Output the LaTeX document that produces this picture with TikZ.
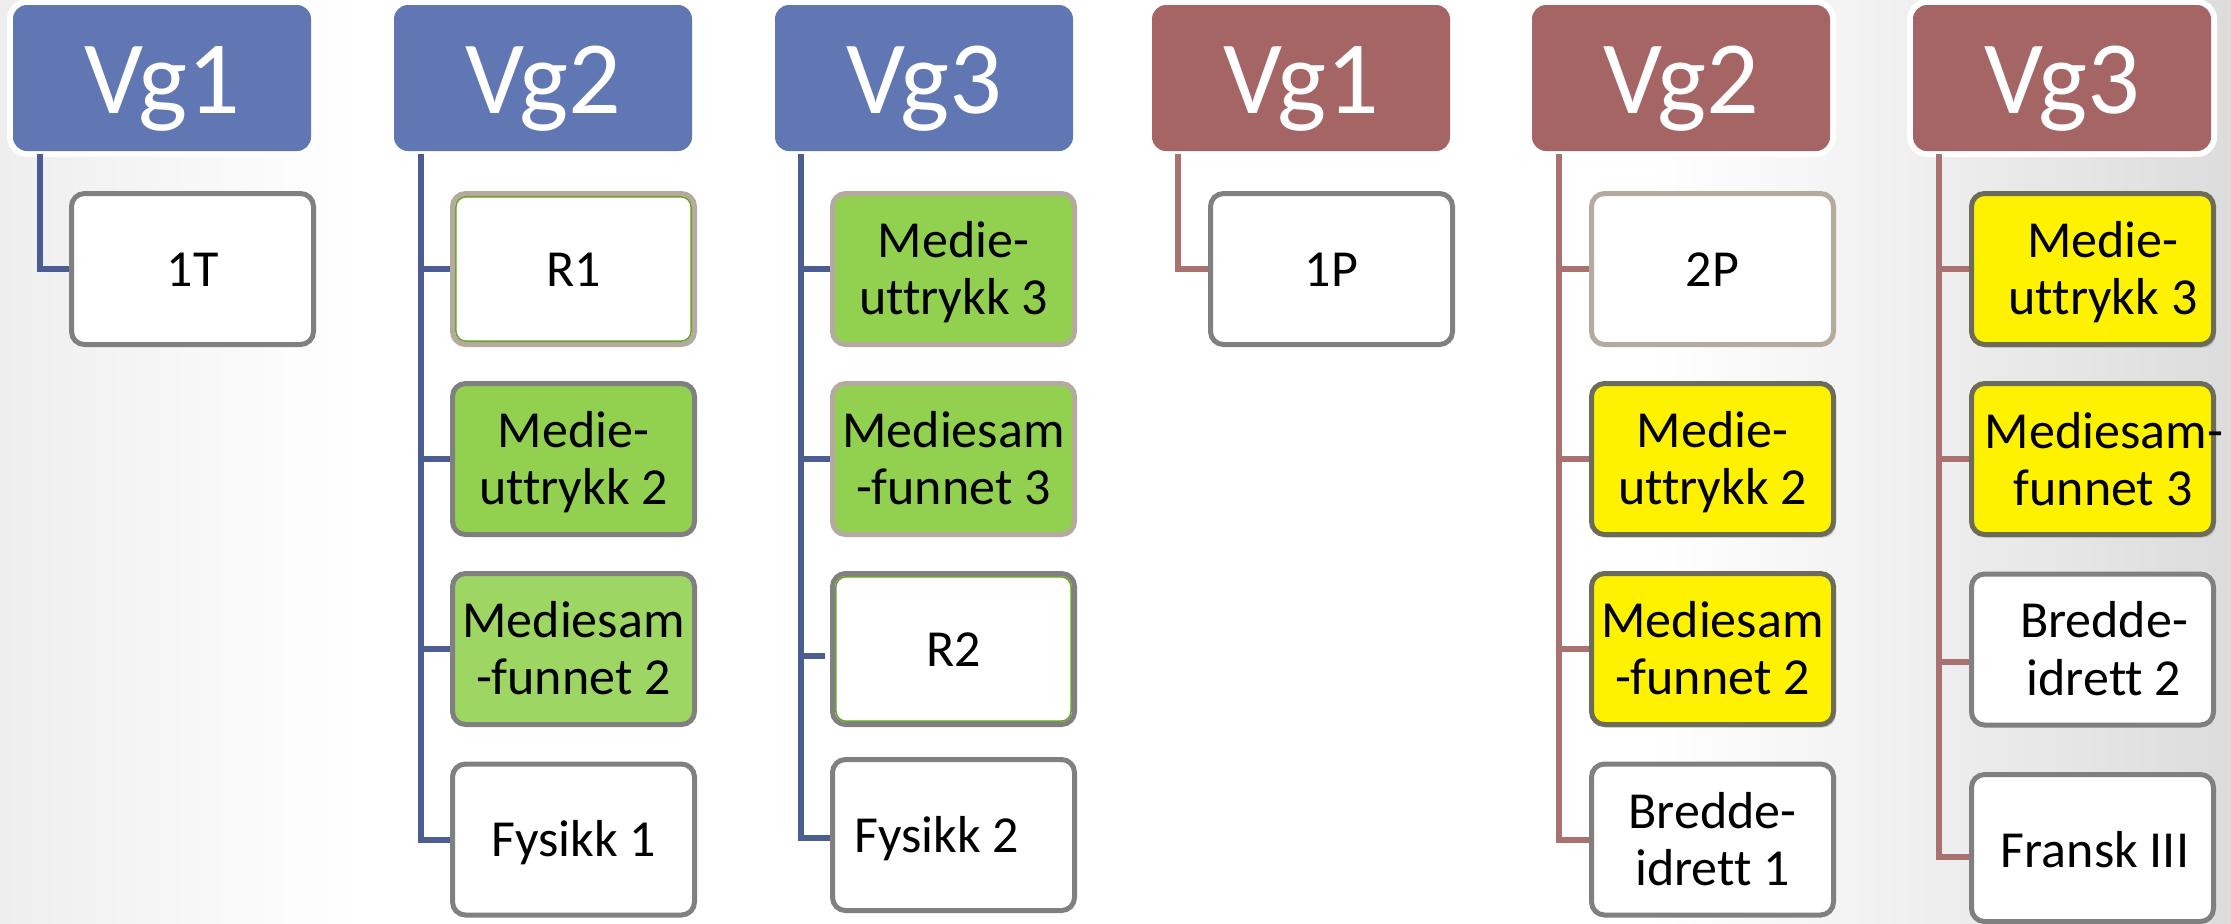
\documentclass[tikz,border=0pt]{standalone}
\usepackage{fontspec}
\setmainfont{Carlito}[Ligatures=NoCommon]
\usetikzlibrary{shadows}
\definecolor{hblue}{RGB}{97,119,180}
\definecolor{lblue}{RGB}{76,93,146}
\definecolor{hred}{RGB}{166,101,101}
\definecolor{lred}{RGB}{170,113,113}
\definecolor{bgray}{RGB}{128,128,128}
\definecolor{btan}{RGB}{181,170,158}
\definecolor{gfill}{RGB}{146,208,80}
\definecolor{gfillb}{RGB}{158,214,100}
\definecolor{gline}{RGB}{110,160,50}
\definecolor{ydark}{RGB}{108,108,88}
\definecolor{bgl}{RGB}{238,238,238}
\definecolor{bgr}{RGB}{220,220,220}
\pgfdeclarehorizontalshading{bgshade}{100bp}{color(0bp)=(bgl); color(25bp)=(bgl); color(33bp)=(white); color(62bp)=(white); color(75bp)=(bgr); color(100bp)=(bgr)}
\begin{document}
\begin{tikzpicture}[x=0.5pt,y=-0.5pt,
  head/.style={rectangle, rounded corners=7pt, minimum width=149pt, minimum height=73pt, inner sep=0pt, preaction={draw=white, line width=6pt}},
  htxt/.style={anchor=base, inner sep=0pt, text=white, font=\fontsize{52}{56}\selectfont},
  box/.style={rectangle, rounded corners=6.5pt, minimum width=121pt, minimum height=75.5pt, line width=2.5pt, inner sep=0pt},
  plain/.style={box, draw=bgray, fill=white},
  tanbox/.style={box, draw=btan},
  ybox/.style={box, draw=ydark, fill=yellow, drop shadow={opacity=0.35, shadow xshift=1.2pt, shadow yshift=-1.6pt}},
  inline/.style={rectangle, rounded corners=5pt, minimum width=117.6pt, minimum height=72.2pt, inner sep=0pt, draw=gline, line width=0.8pt},
  txt/.style={anchor=base, inner sep=0pt, font=\fontsize{26}{28.5}\selectfont},
  conn/.style={line width=3pt}]
\useasboundingbox (0,0) rectangle (2231,923);
\shade[shading=bgshade] (0,0) rectangle (2231,923);

% ---------- headers ----------
\node[head, fill=hblue] (hA) at (162,78) {};
\node[head, fill=hblue] (hB) at (543,78) {};
\node[head, fill=hblue] (hC) at (924,78) {};
\node[head, fill=hred] (hD) at (1301,78) {};
\node[head, fill=hred] (hE) at (1681,78) {};
\node[head, fill=hred] (hF) at (2062,78) {};
\node[htxt] (hAt) at (162,113) {Vg1};
\node[htxt] (hBt) at (543,113) {Vg2};
\node[htxt] (hCt) at (924,113) {Vg3};
\node[htxt] (hDt) at (1301,113) {Vg1};
\node[htxt] (hEt) at (1681,113) {Vg2};
\node[htxt] (hFt) at (2062,113) {Vg3};

% ---------- boxes ----------
\node[plain] (A1) at (192.5,269) {};

\node[tanbox, fill=white] (B1) at (573.5,269) {};
\node[inline] (B1i) at (B1) {};
\node[plain, fill=gfill] (B2) at (573.5,459) {};
\node[plain, fill=gfillb] (B3) at (573.5,649) {};
\node[plain] (B4) at (573.5,839.5) {};

\node[tanbox, fill=gfill] (C1) at (953.5,269) {};
\node[tanbox, fill=gfill] (C2) at (953.5,459) {};
\node[plain] (C3) at (953.5,649) {};
\node[inline] (C3i) at (C3) {};
\node[plain] (C4) at (953.5,835) {};

\node[plain] (D1) at (1331.5,269) {};

\node[tanbox, fill=white] (E1) at (1712.5,269) {};
\node[ybox] (E2) at (1712.5,459) {};
\node[ybox] (E3) at (1712.5,649) {};
\node[plain] (E4) at (1712.5,839.5) {};

\node[ybox] (F1) at (2092.5,269) {};
\node[ybox] (F2) at (2092.5,459) {};
\node[plain] (F3) at (2092.5,649.5) {};
\node[plain, minimum height=73.5pt] (F4) at (2092.5,848) {};

% ---------- connectors ----------
\coordinate (vA) at (40,154);
\coordinate (vB) at (421,154);
\coordinate (vC) at (801,154);
\coordinate (vD) at (1178,154);
\coordinate (vE) at (1559,154);
\coordinate (vF) at (1939,154);
\coordinate (c3e) at ([xshift=-2.5pt,yshift=-3.5pt]C3.west);
\coordinate (c4e) at ([yshift=-1.5pt]C4.west);
\coordinate (f3e) at ([yshift=-6.25pt]F3.west);
\coordinate (f4e) at ([yshift=-4.5pt]F4.west);

\draw[conn, lblue] (vA) |- (A1.west);

\draw[conn, lblue] (vB) |- (B4.west);
\draw[conn, lblue] (vB |- B1.west) -- (B1.west);
\draw[conn, lblue] (vB |- B2.west) -- (B2.west);
\draw[conn, lblue] (vB |- B3.west) -- (B3.west);

\draw[conn, lblue] (vC) |- (c4e);
\draw[conn, lblue] (vC |- C1.west) -- (C1.west);
\draw[conn, lblue] (vC |- C2.west) -- (C2.west);
\draw[conn, lblue] (vC |- c3e) -- (c3e);

\draw[conn, lred] (vD) |- (D1.west);

\draw[conn, lred] (vE) |- (E4.west);
\draw[conn, lred] (vE |- E1.west) -- (E1.west);
\draw[conn, lred] (vE |- E2.west) -- (E2.west);
\draw[conn, lred] (vE |- E3.west) -- (E3.west);

\draw[conn, lred] (vF) |- (f4e);
\draw[conn, lred] (vF |- F1.west) -- (F1.west);
\draw[conn, lred] (vF |- F2.west) -- (F2.west);
\draw[conn, lred] (vF |- f3e) -- (f3e);

% ---------- texts ----------
\node[txt] (A1t) at (192.5,286) {1T};

\node[txt] (B1t) at (573.5,286) {R1};
\node[txt] (B2a) at (573.5,447.5) {Medie-};
\node[txt] (B2b) at (573.5,504.5) {uttrykk 2};
\node[txt] (B3a) at (573.5,637.5) {Mediesam};
\node[txt] (B3b) at (573.5,694.5) {-funnet 2};
\node[txt] (B4t) at (573.5,856.5) {Fysikk 1};

\node[txt] (C1a) at (953.5,257) {Medie-};
\node[txt] (C1b) at (953.5,314) {uttrykk 3};
\node[txt] (C2a) at (953.5,447.5) {Mediesam};
\node[txt] (C2b) at (953.5,504.5) {-funnet 3};
\node[txt] (C3t) at (953.5,666) {R2};
\node[txt] (C4t) at (937,852) {Fysikk 2};

\node[txt] (D1t) at (1331.5,286) {1P};

\node[txt] (E1t) at (1712.5,286) {2P};
\node[txt] (E2a) at (1712.5,447.5) {Medie-};
\node[txt] (E2b) at (1712.5,504.5) {uttrykk 2};
\node[txt] (E3a) at (1712.5,637.5) {Mediesam};
\node[txt] (E3b) at (1712.5,694.5) {-funnet 2};
\node[txt] (E4a) at (1712.5,828) {Bredde-};
\node[txt] (E4b) at (1712.5,885) {idrett 1};

\node[txt] (F1a) at (2103,257) {Medie-};
\node[txt] (F1b) at (2103,314) {uttrykk 3};
\node[txt] (F2a) at (2104,448) {Mediesam-};
\node[txt] (F2b) at (2103,505) {funnet 3};
\node[txt] (F3a) at (2104,637) {Bredde-};
\node[txt] (F3b) at (2104,695) {idrett 2};
\node[txt] (F4t) at (2095,867) {Fransk III};
\end{tikzpicture}
\end{document}
